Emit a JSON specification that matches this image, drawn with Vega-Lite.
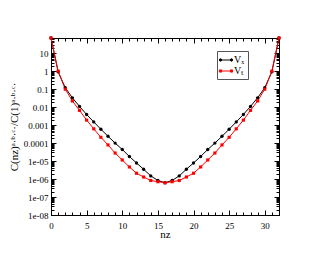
{
  "$schema": "https://vega.github.io/schema/vega-lite/v6.json",
  "autosize": "none",
  "padding": {"left": 51, "top": 38, "right": 51, "bottom": 40},
  "width": 228,
  "height": 177,
  "background": "white",
  "config": {
    "view": {"stroke": "black", "strokeWidth": 1},
    "font": "Liberation Serif",
    "axis": {
      "labelFont": "Liberation Serif",
      "titleFont": "Liberation Serif",
      "labelColor": "black",
      "titleColor": "black",
      "domainColor": "black",
      "tickColor": "black",
      "grid": false,
      "labelFontSize": 9,
      "titleFontSize": 11,
      "titleFontWeight": "normal"
    }
  },
  "data": {
    "values": [
      {"n": 0, "C": 70, "series": "Vₓ"},
      {"n": 1, "C": 0.93, "series": "Vₓ"},
      {"n": 2, "C": 0.12, "series": "Vₓ"},
      {"n": 3, "C": 0.033, "series": "Vₓ"},
      {"n": 4, "C": 0.011, "series": "Vₓ"},
      {"n": 5, "C": 0.0039, "series": "Vₓ"},
      {"n": 6, "C": 0.0015, "series": "Vₓ"},
      {"n": 7, "C": 0.00059, "series": "Vₓ"},
      {"n": 8, "C": 0.00024, "series": "Vₓ"},
      {"n": 9, "C": 0.0001, "series": "Vₓ"},
      {"n": 10, "C": 4.4e-5, "series": "Vₓ"},
      {"n": 11, "C": 1.8e-5, "series": "Vₓ"},
      {"n": 12, "C": 7.8e-6, "series": "Vₓ"},
      {"n": 13, "C": 3.5e-6, "series": "Vₓ"},
      {"n": 14, "C": 1.5e-6, "series": "Vₓ"},
      {"n": 15, "C": 8.3e-7, "series": "Vₓ"},
      {"n": 16, "C": 6.2e-7, "series": "Vₓ"},
      {"n": 17, "C": 8.3e-7, "series": "Vₓ"},
      {"n": 18, "C": 1.5e-6, "series": "Vₓ"},
      {"n": 19, "C": 3.5e-6, "series": "Vₓ"},
      {"n": 20, "C": 7.8e-6, "series": "Vₓ"},
      {"n": 21, "C": 1.8e-5, "series": "Vₓ"},
      {"n": 22, "C": 4.4e-5, "series": "Vₓ"},
      {"n": 23, "C": 0.0001, "series": "Vₓ"},
      {"n": 24, "C": 0.00024, "series": "Vₓ"},
      {"n": 25, "C": 0.00059, "series": "Vₓ"},
      {"n": 26, "C": 0.0015, "series": "Vₓ"},
      {"n": 27, "C": 0.0039, "series": "Vₓ"},
      {"n": 28, "C": 0.011, "series": "Vₓ"},
      {"n": 29, "C": 0.033, "series": "Vₓ"},
      {"n": 30, "C": 0.12, "series": "Vₓ"},
      {"n": 31, "C": 0.93, "series": "Vₓ"},
      {"n": 32, "C": 70, "series": "Vₓ"},
      {"n": 0, "C": 70, "series": "Vₜ"},
      {"n": 1, "C": 1.0, "series": "Vₜ"},
      {"n": 2, "C": 0.10, "series": "Vₜ"},
      {"n": 3, "C": 0.022, "series": "Vₜ"},
      {"n": 4, "C": 0.0066, "series": "Vₜ"},
      {"n": 5, "C": 0.0019, "series": "Vₜ"},
      {"n": 6, "C": 0.00062, "series": "Vₜ"},
      {"n": 7, "C": 0.00021, "series": "Vₜ"},
      {"n": 8, "C": 7.9e-5, "series": "Vₜ"},
      {"n": 9, "C": 2.8e-5, "series": "Vₜ"},
      {"n": 10, "C": 1.15e-5, "series": "Vₜ"},
      {"n": 11, "C": 4.7e-6, "series": "Vₜ"},
      {"n": 12, "C": 2.1e-6, "series": "Vₜ"},
      {"n": 13, "C": 1.3e-6, "series": "Vₜ"},
      {"n": 14, "C": 8.3e-7, "series": "Vₜ"},
      {"n": 15, "C": 7.1e-7, "series": "Vₜ"},
      {"n": 16, "C": 6.2e-7, "series": "Vₜ"},
      {"n": 17, "C": 7.1e-7, "series": "Vₜ"},
      {"n": 18, "C": 8.3e-7, "series": "Vₜ"},
      {"n": 19, "C": 1.3e-6, "series": "Vₜ"},
      {"n": 20, "C": 2.1e-6, "series": "Vₜ"},
      {"n": 21, "C": 4.7e-6, "series": "Vₜ"},
      {"n": 22, "C": 1.15e-5, "series": "Vₜ"},
      {"n": 23, "C": 2.8e-5, "series": "Vₜ"},
      {"n": 24, "C": 7.9e-5, "series": "Vₜ"},
      {"n": 25, "C": 0.00021, "series": "Vₜ"},
      {"n": 26, "C": 0.00062, "series": "Vₜ"},
      {"n": 27, "C": 0.0019, "series": "Vₜ"},
      {"n": 28, "C": 0.0066, "series": "Vₜ"},
      {"n": 29, "C": 0.022, "series": "Vₜ"},
      {"n": 30, "C": 0.10, "series": "Vₜ"},
      {"n": 31, "C": 1.0, "series": "Vₜ"},
      {"n": 32, "C": 70, "series": "Vₜ"}
    ]
  },
  "resolve": {"axis": {"x": "independent", "y": "independent"}},
  "layer": [
    {
      "mark": {"type": "line", "strokeWidth": 1, "clip": true},
      "encoding": {
        "x": {
          "field": "n", "type": "quantitative",
          "scale": {"domain": [0, 32], "nice": false, "zero": false},
          "axis": {
            "orient": "bottom",
            "title": "nᴢ",
            "titlePadding": -4,
            "values": [0,1,2,3,4,5,6,7,8,9,10,11,12,13,14,15,16,17,18,19,20,21,22,23,24,25,26,27,28,29,30,31,32],
            "labelExpr": "datum.value % 5 === 0 && datum.value <= 30 ? format(datum.value, 'd') : ''",
            "tickSize": {"condition": {"test": "datum.value % 5 === 0", "value": -5}, "value": -3},
            "labelPadding": 11,
            "labelFlush": false,
            "labelOverlap": false
          }
        },
        "y": {
          "field": "C", "type": "quantitative",
          "scale": {"type": "log", "domain": [1e-8, 70], "nice": false},
          "axis": {
            "orient": "left",
            "title": "C(nᴢ)ᵃ·ᵇ·ᶜ·/C(1)ᵃ·ᵇ·ᶜ·",
            "titlePadding": 4,
            "titleFontSize": 11,
            "values": [1e-8,2e-8,3e-8,4e-8,5e-8,6e-8,7e-8,8e-8,9e-8,1e-7,2e-7,3e-7,4e-7,5e-7,6e-7,7e-7,8e-7,9e-7,1e-6,2e-6,3e-6,4e-6,5e-6,6e-6,7e-6,8e-6,9e-6,1e-5,2e-5,3e-5,4e-5,5e-5,6e-5,7e-5,8e-5,9e-5,0.0001,0.0002,0.0003,0.0004,0.0005,0.0006,0.0007,0.0008,0.0009,0.001,0.002,0.003,0.004,0.005,0.006,0.007,0.008,0.009,0.01,0.02,0.03,0.04,0.05,0.06,0.07,0.08,0.09,0.1,0.2,0.3,0.4,0.5,0.6,0.7,0.8,0.9,1,2,3,4,5,6,7,8,9,10,20,30,40,50,60,70],
            "labelExpr": "abs(log(datum.value)/LN10 - round(log(datum.value)/LN10)) < 0.001 ? (datum.value >= 0.0001 ? format(datum.value, '~g') : '1e-0' + round(-log(datum.value)/LN10)) : ''",
            "tickSize": {"condition": {"test": "abs(log(datum.value)/LN10 - round(log(datum.value)/LN10)) < 0.001", "value": -5}, "value": -3},
            "labelPadding": 8,
            "labelFlush": false,
            "labelOverlap": false
          }
        },
        "color": {
          "field": "series", "type": "nominal",
          "scale": {"domain": ["Vₓ", "Vₜ"], "range": ["#000000", "#ff0000"]},
          "legend": {
            "title": null,
            "orient": "none",
            "legendX": 166,
            "legendY": 13,
            "padding": 3,
            "strokeColor": "#555555",
            "fillColor": "white",
            "labelFont": "Liberation Serif",
            "labelFontSize": 10,
            "labelColor": "black",
            "labelOffset": 2,
            "rowPadding": 0,
            "symbolSize": 121,
            "symbolStrokeWidth": 1,
            "symbolType": "M-1,0H1M-1.22,0a0.22,0.22 0 1,0 0.44,0a0.22,0.22 0 1,0 -0.44,0M0.78,0a0.22,0.22 0 1,0 0.44,0a0.22,0.22 0 1,0 -0.44,0",
            "encode": {
              "symbols": {
                "update": {
                  "shape": {"signal": "datum.value === 'Vₓ' ? 'M-1,0H1M-1.22,0a0.22,0.22 0 1,0 0.44,0a0.22,0.22 0 1,0 -0.44,0M0.78,0a0.22,0.22 0 1,0 0.44,0a0.22,0.22 0 1,0 -0.44,0' : 'M-1,0H1M-1.2,-0.2h0.4v0.4h-0.4zM0.8,-0.2h0.4v0.4h-0.4z'"},
                  "fill": {"signal": "scale('color', datum.value)"},
                  "stroke": {"signal": "scale('color', datum.value)"}
                }
              }
            }
          }
        }
      }
    },
    {
      "transform": [{"filter": "datum.series === 'Vₓ'"}],
      "mark": {"type": "point", "shape": "circle", "filled": true, "size": 11, "opacity": 1, "color": "#000000"},
      "encoding": {
        "x": {"field": "n", "type": "quantitative", "axis": null},
        "y": {"field": "C", "type": "quantitative", "axis": null}
      }
    },
    {
      "transform": [{"filter": "datum.series === 'Vₜ'"}],
      "mark": {"type": "point", "shape": "square", "filled": true, "size": 10, "opacity": 1, "color": "#ff0000"},
      "encoding": {
        "x": {"field": "n", "type": "quantitative", "axis": null},
        "y": {"field": "C", "type": "quantitative", "axis": null}
      }
    },
    {
      "mark": {"type": "point", "opacity": 0},
      "encoding": {
        "x": {
          "field": "n", "type": "quantitative",
          "axis": {
            "orient": "top",
            "title": null,
            "labels": false,
            "values": [0,1,2,3,4,5,6,7,8,9,10,11,12,13,14,15,16,17,18,19,20,21,22,23,24,25,26,27,28,29,30,31,32],
            "tickSize": {"condition": {"test": "datum.value % 5 === 0", "value": -5}, "value": -3}
          }
        },
        "y": {
          "field": "C", "type": "quantitative",
          "axis": {
            "orient": "right",
            "title": null,
            "labels": false,
            "values": [1e-8,2e-8,3e-8,4e-8,5e-8,6e-8,7e-8,8e-8,9e-8,1e-7,2e-7,3e-7,4e-7,5e-7,6e-7,7e-7,8e-7,9e-7,1e-6,2e-6,3e-6,4e-6,5e-6,6e-6,7e-6,8e-6,9e-6,1e-5,2e-5,3e-5,4e-5,5e-5,6e-5,7e-5,8e-5,9e-5,0.0001,0.0002,0.0003,0.0004,0.0005,0.0006,0.0007,0.0008,0.0009,0.001,0.002,0.003,0.004,0.005,0.006,0.007,0.008,0.009,0.01,0.02,0.03,0.04,0.05,0.06,0.07,0.08,0.09,0.1,0.2,0.3,0.4,0.5,0.6,0.7,0.8,0.9,1,2,3,4,5,6,7,8,9,10,20,30,40,50,60,70],
            "tickSize": {"condition": {"test": "abs(log(datum.value)/LN10 - round(log(datum.value)/LN10)) < 0.001", "value": -5}, "value": -3}
          }
        }
      }
    }
  ]
}
